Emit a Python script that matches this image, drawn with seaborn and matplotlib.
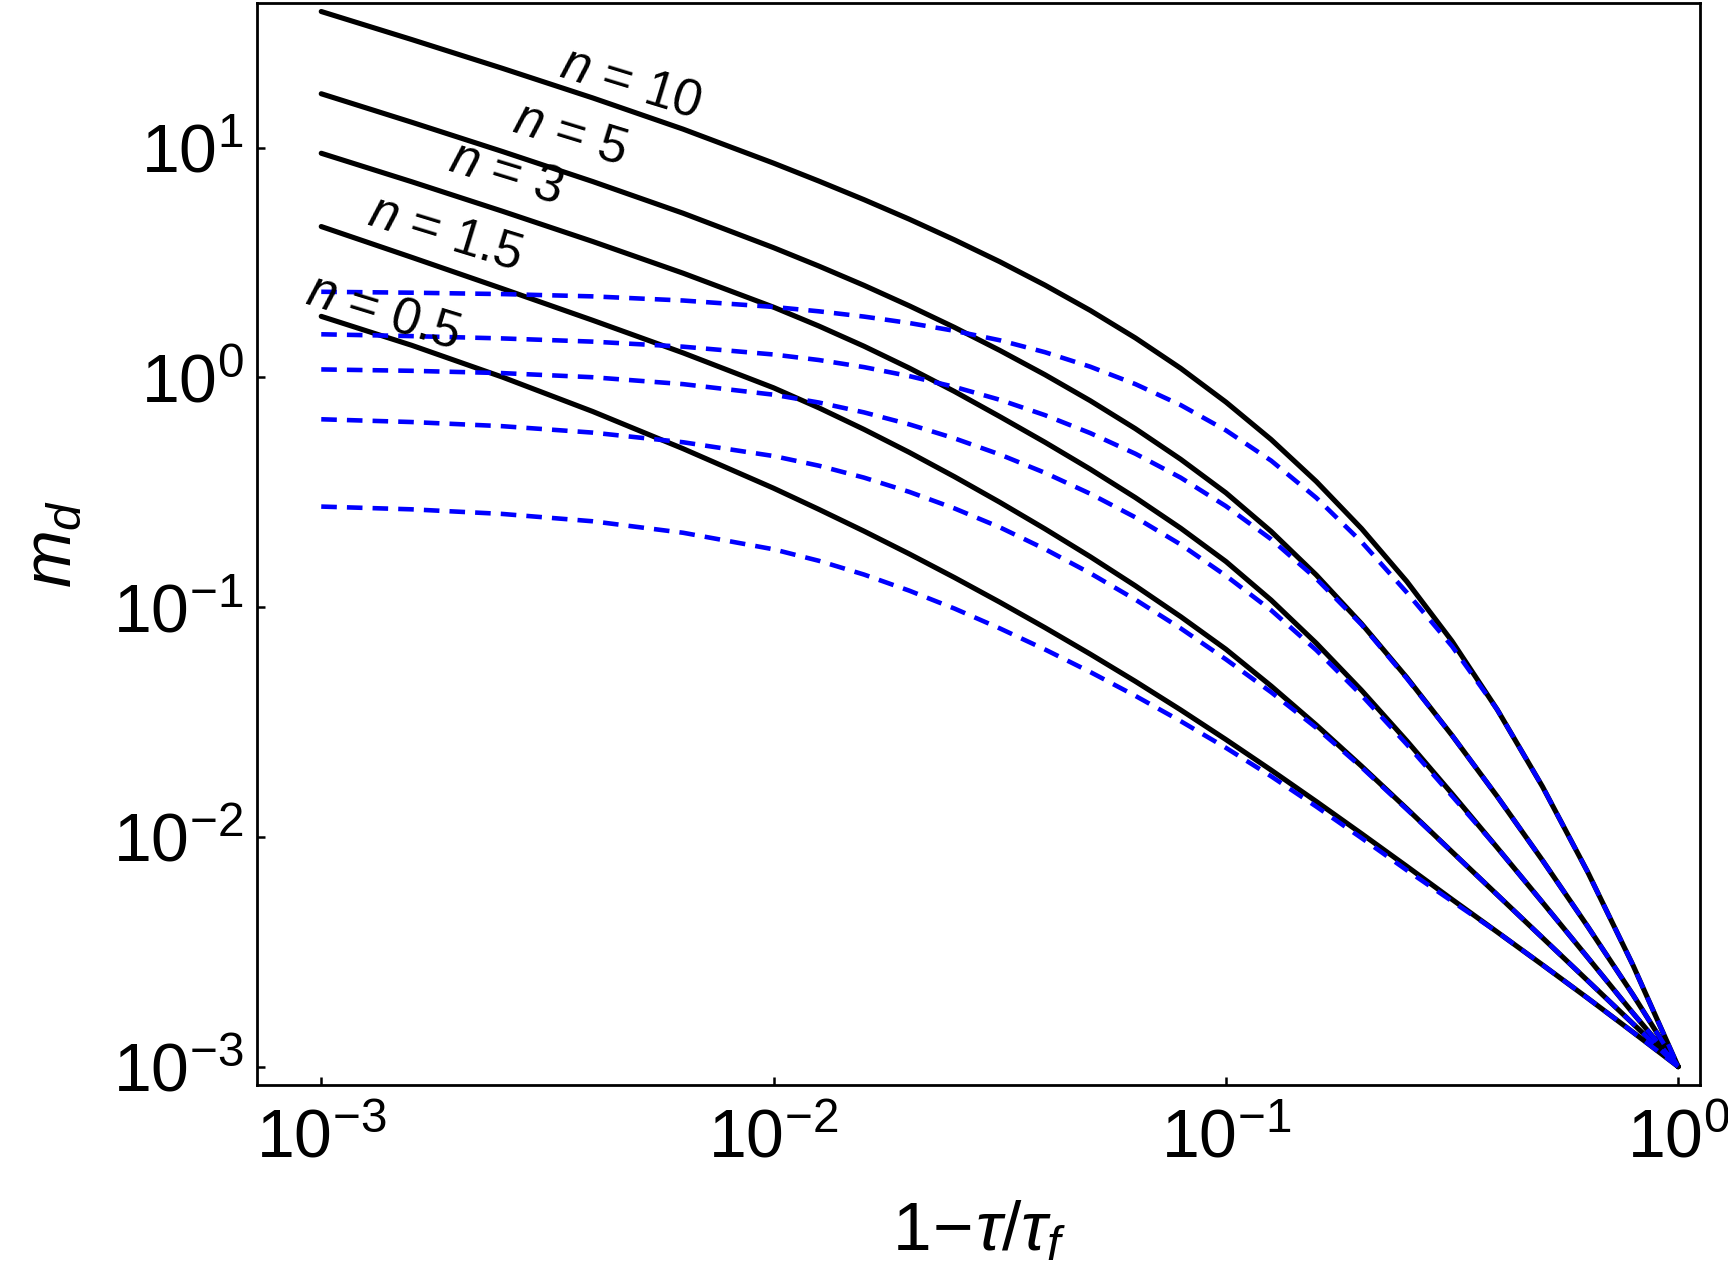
import numpy as np
import pandas as pd
import seaborn as sns
import matplotlib.pyplot as plt
from matplotlib.ticker import NullLocator

log_x = [-3.0, -2.8, -2.6, -2.4, -2.2, -2.0, -1.9, -1.8, -1.7, -1.6, -1.5,
         -1.4, -1.3, -1.2, -1.1, -1.0, -0.9, -0.8, -0.7, -0.6, -0.5,
         -0.4, -0.3, -0.2, -0.1, 0.0]

# log10(m_d), solid black curves
solid_n10 = [1.593, 1.471, 1.346, 1.217, 1.081, 0.933, 0.855, 0.774, 0.689, 0.599, 0.504,
             0.402, 0.292, 0.172, 0.040, -0.107, -0.270, -0.453, -0.658, -0.888, -1.148,
             -1.446, -1.781, -2.153, -2.558, -3.0]
solid_n5 = [1.235, 1.111, 0.984, 0.853, 0.715, 0.565, 0.485, 0.401, 0.312, 0.218, 0.118,
            0.012, -0.101, -0.223, -0.356, -0.502, -0.670, -0.860, -1.072, -1.306, -1.558,
            -1.824, -2.102, -2.390, -2.687, -3.0]
solid_n3 = [0.976, 0.852, 0.724, 0.592, 0.454, 0.306, 0.224, 0.136, 0.041, -0.061, -0.170,
            -0.282, -0.399, -0.523, -0.656, -0.801, -0.969, -1.157, -1.362, -1.582, -1.812,
            -2.047, -2.285, -2.525, -2.767, -3.0]
solid_n15 = [0.657, 0.523, 0.387, 0.249, 0.107, -0.045, -0.132, -0.226, -0.326, -0.432, -0.543,
             -0.659, -0.780, -0.907, -1.041, -1.183, -1.343, -1.513, -1.692, -1.877, -2.065,
             -2.252, -2.439, -2.626, -2.813, -3.0]
solid_n05 = [0.266, 0.140, 0.002, -0.148, -0.310, -0.482, -0.574, -0.669, -0.768, -0.871, -0.978,
             -1.089, -1.204, -1.323, -1.447, -1.576, -1.709, -1.846, -1.986, -2.128, -2.272,
             -2.414, -2.557, -2.702, -2.850, -3.0]

# log10(m_d), blue dashed curves
dashed_n10 = [0.373, 0.369, 0.363, 0.353, 0.335, 0.307, 0.288, 0.265, 0.237, 0.203, 0.162,
              0.110, 0.047, -0.029, -0.120, -0.230, -0.362, -0.524, -0.716, -0.936, -1.170,
              -1.446, -1.781, -2.153, -2.558, -3.0]
dashed_n5 = [0.188, 0.180, 0.170, 0.156, 0.134, 0.100, 0.076, 0.045, 0.006, -0.041, -0.097,
             -0.164, -0.242, -0.332, -0.436, -0.560, -0.704, -0.876, -1.076, -1.310, -1.558,
             -1.824, -2.102, -2.390, -2.687, -3.0]
dashed_n3 = [0.035, 0.029, 0.019, 0.001, -0.029, -0.075, -0.109, -0.152, -0.204, -0.265, -0.335,
             -0.415, -0.506, -0.609, -0.727, -0.863, -1.013, -1.187, -1.383, -1.597, -1.822,
             -2.047, -2.285, -2.525, -2.767, -3.0]
dashed_n15 = [-0.182, -0.194, -0.212, -0.240, -0.282, -0.342, -0.384, -0.436, -0.498, -0.570, -0.652,
              -0.747, -0.852, -0.967, -1.092, -1.227, -1.370, -1.525, -1.697, -1.880, -2.065,
              -2.252, -2.439, -2.626, -2.813, -3.0]
dashed_n05 = [-0.562, -0.574, -0.594, -0.626, -0.676, -0.748, -0.798, -0.858, -0.928, -1.006, -1.092,
              -1.184, -1.282, -1.386, -1.496, -1.612, -1.736, -1.868, -2.005, -2.145, -2.280,
              -2.414, -2.557, -2.702, -2.850, -3.0]

n_names = ["10", "5", "3", "1.5", "0.5"]
solid_curves = [solid_n10, solid_n5, solid_n3, solid_n15, solid_n05]
dashed_curves = [dashed_n10, dashed_n5, dashed_n3, dashed_n15, dashed_n05]

# label anchors (log10 x, log10 y)
label_log_x = [-2.315, -2.45, -2.591, -2.726, -2.863]
label_log_y = [1.28, 1.058, 0.888, 0.627, 0.283]

rows = []
for name, s, d in zip(n_names, solid_curves, dashed_curves):
    for lx, ys, yd in zip(log_x, s, d):
        rows.append({"n": name, "kind": "solid", "x": 10 ** lx, "m": 10 ** ys})
        rows.append({"n": name, "kind": "dashed", "x": 10 ** lx, "m": 10 ** yd})
df = pd.DataFrame(rows)

sns.set_theme(style="ticks", rc={"text.color": "black", "axes.labelcolor": "black",
                                 "xtick.color": "black", "ytick.color": "black",
                                 "axes.edgecolor": "black"})
plt.rcParams["font.family"] = ["Liberation Sans", "DejaVu Sans"]
plt.rcParams["mathtext.fontset"] = "custom"
plt.rcParams["mathtext.rm"] = "Liberation Sans"
plt.rcParams["mathtext.it"] = "Liberation Sans:italic"
plt.rcParams["mathtext.bf"] = "Liberation Sans:bold"

fig = plt.figure(figsize=(8.64, 6.39), dpi=200)
ax = fig.add_axes([0.149, 0.151, 0.835, 0.847])

# solid curves first, dashed drawn on top
for name in n_names:
    sub = df[(df["n"] == name) & (df["kind"] == "solid")]
    sns.lineplot(data=sub, x="x", y="m", ax=ax, color="black", lw=1.85,
                 sort=False, estimator=None)
for name in n_names:
    sub = df[(df["n"] == name) & (df["kind"] == "dashed")]
    sns.lineplot(data=sub, x="x", y="m", ax=ax, color="#0000ff", lw=1.65,
                 linestyle=(0, (3.4, 2.2)), sort=False, estimator=None)

for name, lx, ly in zip(n_names, label_log_x, label_log_y):
    ax.text(10 ** lx, 10 ** ly, r"$n$ = " + name, rotation=-17,
            ha="center", va="center", fontsize=18.5, color="black")

ax.set_xscale("log")
ax.set_yscale("log")
ax.set_xlim(10 ** -3.141, 10 ** 0.049)
ax.set_ylim(10 ** -3.08, 10 ** 1.632)
ax.set_xticks([1e-3, 1e-2, 1e-1, 1e0])
ax.set_yticks([1e-3, 1e-2, 1e-1, 1e0, 1e1])
ax.xaxis.set_minor_locator(NullLocator())
ax.yaxis.set_minor_locator(NullLocator())
ax.tick_params(axis="both", direction="in", length=3, width=0.9,
               labelsize=24.5, colors="black")
ax.tick_params(axis="x", pad=8)
ax.tick_params(axis="y", pad=5)

for sp in ax.spines.values():
    sp.set_visible(True)
    sp.set_color("black")
    sp.set_linewidth(1.0)

ax.set_xlabel(r"$1\!-\!\tau/\tau_f$", fontsize=25, labelpad=10)
ax.set_ylabel(r"$m_d$", fontsize=25, labelpad=10)

fig.savefig("out.png", dpi=200)
